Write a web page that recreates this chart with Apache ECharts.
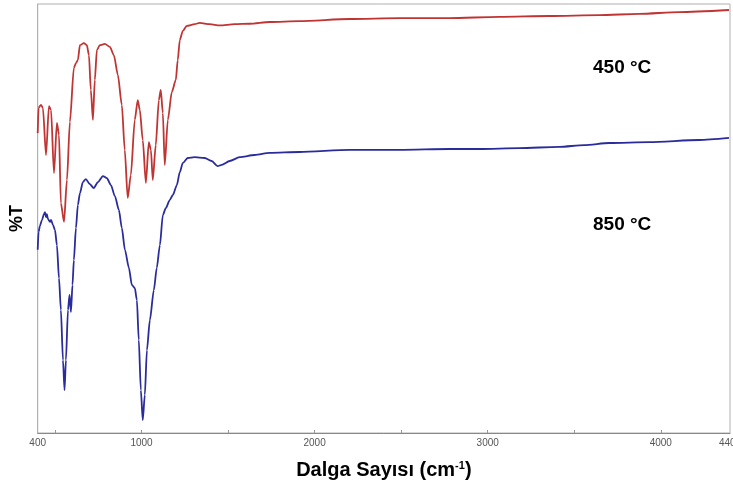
<!DOCTYPE html>
<html>
<head>
<meta charset="utf-8">
<script src="https://cdn.jsdelivr.net/npm/echarts@6/dist/echarts.min.js"></script>
<style>
html,body{margin:0;padding:0;background:#fff;}
#c{width:733px;height:485px;}
</style>
</head>
<body>
<div id="c"></div>
<script>
// Wavenumbers (cm-1) and %T values
var wave450 = [400,405,419,430,448,465,477,494,511,523,534,552,569,586,609,621,632,644,667,684,696,707,719,730,742,759,788,817,840,863,886,903,920,938,961,978,990,1007,1025,1042,1054,1065,1082,1100,1111,1123,1134,1152,1175,1198,1209,1221,1238,1261,1307,1336,1394,1452,1538,1625,1740,1913,2202,2490,2779,3067,3356,3644,3875,4106,4394];
var t450 = [69.9,75.8,76.5,75.8,64.8,76.2,75.3,60.6,72.3,69.5,53.6,49.2,59.0,72.5,85.1,86.2,86.9,90.4,90.9,90.4,88.1,80.0,73.0,82.3,89.3,90.4,90.7,90.0,88.1,83.5,76.5,66.0,54.8,60.1,73.0,77.6,75.3,68.3,58.3,67.8,66.0,59.0,67.1,77.6,80.0,74.6,62.5,73.0,79.5,82.3,86.9,91.6,93.7,94.9,95.3,95.6,95.3,95.0,95.3,95.4,95.8,96.0,96.5,96.7,96.7,97.0,97.2,97.4,97.7,98.1,98.6];

var wave850 = [400,405,413,425,436,442,448,453,459,471,477,488,500,511,523,534,546,555,563,575,584,592,601,609,621,632,644,661,678,701,724,748,777,800,823,846,869,886,904,927,944,961,973,984,996,1007,1019,1031,1048,1071,1088,1106,1123,1140,1163,1181,1204,1221,1238,1267,1307,1365,1405,1440,1463,1509,1567,1654,1740,1913,2202,2490,2779,2952,3183,3413,3558,3702,3933,4221,4394];
var t850 = [42.7,46.9,48.3,49.7,51.0,51.5,50.3,51.0,49.9,49.2,49.7,48.5,47.3,43.8,36.1,28.7,17.0,10.0,17.0,28.7,32.2,28.2,34.5,40.3,47.8,53.1,55.9,58.5,59.2,58.0,57.1,58.5,59.9,59.4,57.8,55.2,52.0,47.8,42.7,38.5,34.5,33.8,31.0,21.7,10.0,3.0,8.9,19.3,26.3,33.3,38.5,43.8,50.8,52.4,54.3,55.5,57.8,60.8,62.9,64.1,64.3,64.1,63.4,62.2,62.5,63.4,64.3,64.8,65.3,65.5,66.0,66.0,66.2,66.2,66.4,66.7,67.1,67.6,67.8,68.3,68.8];

var xLabels = [400,1000,2000,3000,4000,4400];
var xTicks = [500,1000,1500,2000,2500,3000,3500,4000];
var seriesNames = ['450 °C','850 °C'];

function pairs(xs, ys){ return xs.map(function(x,i){ return [x, ys[i]]; }); }

var chart = echarts.init(document.getElementById('c'), null, {renderer:'canvas'});
chart.setOption({
  animation:false,
  backgroundColor:'#fff',
  grid:{left:37.7,right:3,top:4,bottom:52,show:true,borderColor:'#b0b0b0',borderWidth:1,outerBoundsMode:'none',containLabel:false},
  xAxis:{
    type:'value',min:400,max:4400,
    name:'{a|Dalga Sayısı (cm}{s|-1}{a|)}',
    nameLocation:'middle',nameGap:27,
    nameTextStyle:{rich:{
      a:{fontFamily:'Liberation Sans, Arial',fontWeight:'bold',fontSize:20,color:'#000'},
      s:{fontFamily:'Liberation Sans, Arial',fontWeight:'bold',fontSize:11,color:'#000',verticalAlign:'top',padding:[0,0,9,0]}
    }},
    axisLine:{show:true,lineStyle:{color:'#888',width:1}},
    axisTick:{show:true,inside:true,length:3,customValues:xTicks,lineStyle:{color:'#999'}},
    axisLabel:{customValues:xLabels,margin:5,fontSize:10,color:'#555',fontFamily:'Liberation Sans, Arial',
      formatter:function(v){ return String(v); }},
    splitLine:{show:false}
  },
  yAxis:{
    type:'value',min:0,max:100,
    name:'%T',nameLocation:'middle',nameGap:12,nameRotate:90,
    nameTextStyle:{fontFamily:'Liberation Sans, Arial',fontWeight:'bold',fontSize:18,color:'#000'},
    axisLine:{show:true,lineStyle:{color:'#b0b0b0'}},
    axisTick:{show:false},axisLabel:{show:false},splitLine:{show:false}
  },
  series:[
    {name:seriesNames[0],type:'line',data:pairs(wave450,t450),showSymbol:false,smooth:0.25,smoothMonotone:'x',
     lineStyle:{color:'#c03434',width:1.8}},
    {name:seriesNames[1],type:'line',data:pairs(wave850,t850),showSymbol:false,smooth:0.25,smoothMonotone:'x',
     lineStyle:{color:'#2a2c9c',width:1.8}}
  ],
  graphic:[
    {type:'text',left:593,top:58,style:{text:seriesNames[0],font:'bold 19px "Liberation Sans", Arial',fill:'#000'}},
    {type:'text',left:593,top:215,style:{text:seriesNames[1],font:'bold 19px "Liberation Sans", Arial',fill:'#000'}}
  ]
});
</script>
</body>
</html>
